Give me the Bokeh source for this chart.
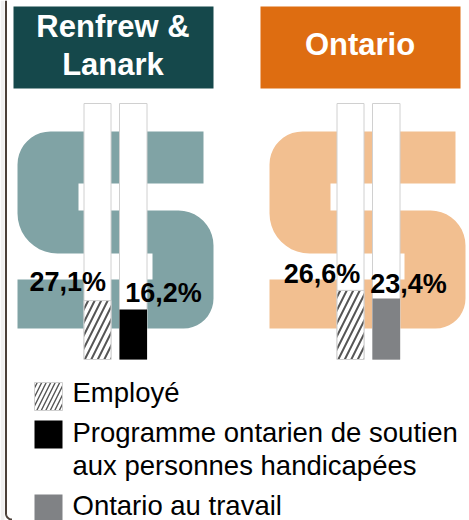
from bokeh.plotting import figure
from bokeh.models import Range1d
from bokeh.core.properties import value
from bokeh.embed import file_html
from bokeh.resources import INLINE
import math

# ---- data -------------------------------------------------------------
regions = ["Renfrew &\nLanark", "Ontario"]
employed_labels = ["27,1%", "26,6%"]
support_labels = ["16,2%", "23,4%"]
# fill of the bars as drawn, in % of the empty track
employed_fill = [23.0, 27.0]
support_fill = [19.5, 23.8]
legend_labels = ["Employé", "Programme ontarien de soutien\naux personnes handicapées", "Ontario au travail"]
region_colors = ["#15484b", "#de6d11"]
shape_colors = ["#80a3a5", "#f2bf90"]
support_colors = ["#000000", "#808285"]

W, H = 469, 520
FONT = value("Liberation Sans")

p = figure(width=W, height=H, x_range=Range1d(0, W), y_range=Range1d(H, 0),
           output_backend="svg", toolbar_location=None, min_border=0,
           outline_line_color=None, x_axis_type=None, y_axis_type=None)
p.grid.visible = False
p.background_fill_color = "white"
p.border_fill_color = "white"

# track scale: 0 = foot of the bars (y=359 px), 100 = head (y=103 px)
scale = (359 - 103) / 100
p.extra_y_ranges = {"track": Range1d(start=(359 - H) / scale, end=359 / scale)}


def arc(cx, cy, r, a0, a1, n=10):
    return [(cx + r * math.cos(math.radians(a0 + (a1 - a0) * i / n)),
             cy + r * math.sin(math.radians(a0 + (a1 - a0) * i / n))) for i in range(n + 1)]


def dollar(dx):
    pts = arc(50, 164, 33, 180, 270)
    pts += [(203, 131), (203, 183), (78, 183), (78, 210), (178, 210)]
    pts += arc(178, 245, 35, 270, 360)
    pts += arc(183, 298, 30, 0, 90)
    pts += [(17, 328), (17, 279), (152, 279), (152, 253), (57, 253)]
    pts += arc(57, 213, 40, 90, 180)
    return [x + dx for x, _ in pts], [y for _, y in pts]


def put_text(xs, ys, texts, size, color="black", bold=False, align="center"):
    # the SVG text sits about 0.36 em below the requested baseline
    off = 0.36 * size
    p.text(x=xs, y=[y - off for y in ys], text=texts, text_font=FONT,
           text_font_style="bold" if bold else "normal", text_font_size=f"{size}px",
           text_color=color, text_align=align, text_baseline="alphabetic")


# frame on the far left
p.quad(left=[0], right=[4], top=[0], bottom=[H], fill_color="#efefef", line_color=None)
fx, fy = zip(*([(5.5, 0), (5.5, 513)] + arc(11.5, 513, 6, 180, 90)))
p.line(list(fx), list(fy), line_color="#4a3f38", line_width=2)

for i, dx in enumerate([0, 252]):
    # header
    p.quad(left=[13 + 247 * i], right=[213 + 247 * i], top=[6], bottom=[88],
           fill_color=region_colors[i], line_color=None)
    lines = regions[i].split("\n")
    cx = 113 + 247 * i - 0.5
    ys = [37, 75] if len(lines) == 2 else [55]
    put_text([cx] * len(lines), ys, lines, 31, color="white", bold=True)

    # dollar shape
    xs, ys = dollar(dx)
    p.patch(xs, ys, fill_color=shape_colors[i], line_color=None)

    # tracks
    bar_l = [83.5 + dx + i * 1, 119 + dx + i * 1]
    bar_r = [110.5 + dx + i * 1, 146.5 + dx + i * 1]
    p.quad(left=bar_l, right=bar_r, bottom=[0, 0], top=[100, 100], y_range_name="track",
           fill_color="white", line_color="#d0d0d0", line_width=1)
    # employed
    p.quad(left=bar_l[:1], right=bar_r[:1], bottom=[0], top=[employed_fill[i]], y_range_name="track",
           fill_color="white", line_color="#cfcfcf", line_width=1,
           hatch_pattern="right_diagonal_line", hatch_color="#555555", hatch_weight=2, hatch_scale=13)
    # support
    p.quad(left=bar_l[1:], right=bar_r[1:], bottom=[0], top=[support_fill[i]], y_range_name="track",
           fill_color=support_colors[i], line_color=None)

# value labels
lab_x = [67.2, 163, 321.5, 408]
lab_y = [291, 302, 283, 293]
lab_t = [employed_labels[0], support_labels[0], employed_labels[1], support_labels[1]]
put_text(lab_x, lab_y, lab_t, 27, bold=True)

# legend
sw_y = [382, 420, 494]
p.quad(left=[34], right=[62], top=[sw_y[0]], bottom=[sw_y[0] + 28], fill_color="white", line_color="#cfcfcf",
       hatch_pattern="right_diagonal_line", hatch_color="#555555", hatch_weight=1.4, hatch_scale=9)
p.quad(left=[34], right=[62], top=[sw_y[1]], bottom=[sw_y[1] + 28], fill_color=support_colors[0], line_color=None)
p.quad(left=[34], right=[62], top=[sw_y[2]], bottom=[sw_y[2] + 26], fill_color=support_colors[1], line_color=None)

leg_lines = [legend_labels[0]] + legend_labels[1].split("\n") + [legend_labels[2]]
put_text([72] * 4, [401.7, 442, 475, 515], leg_lines, 27.5, align="left")

open("out.html", "w").write(file_html(p, INLINE))
